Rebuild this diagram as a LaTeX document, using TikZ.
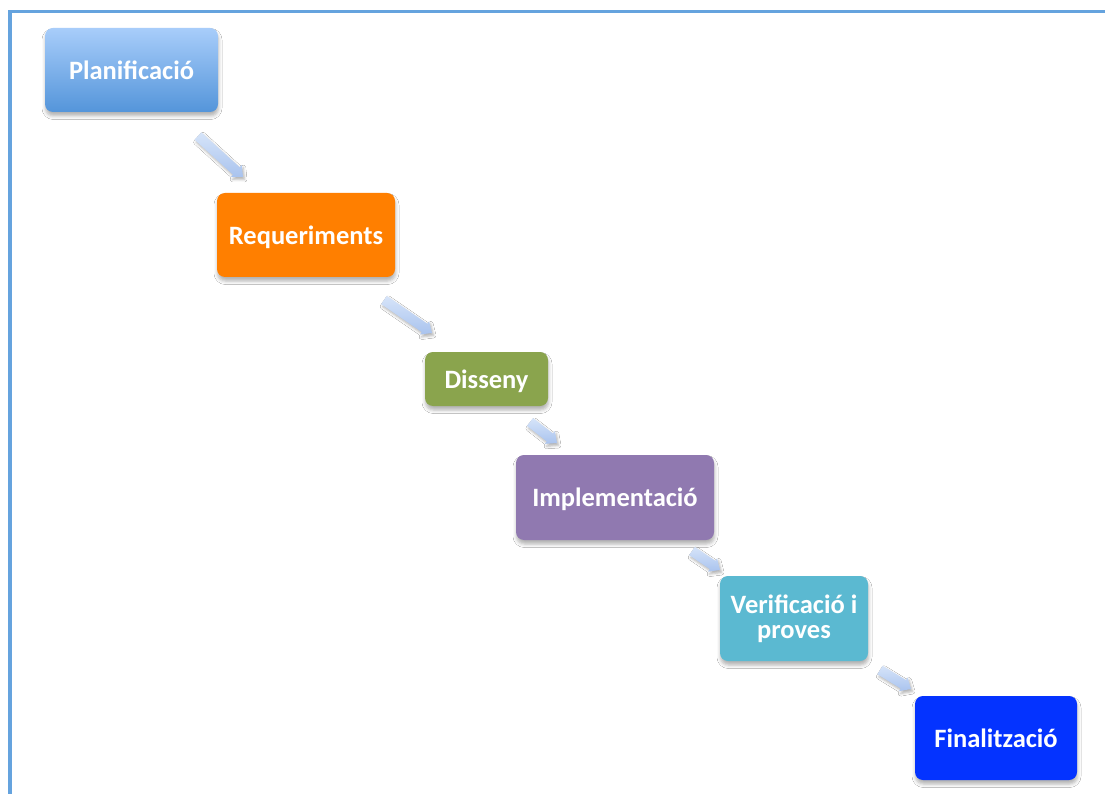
\documentclass[tikz,border=0pt]{standalone}
\usepackage{fontspec}
\setmainfont{Carlito}
\usetikzlibrary{calc,shadows.blur}

\definecolor{frameblue}{HTML}{65A3DE}
\definecolor{plantop}{HTML}{A8CDFA}
\definecolor{planbot}{HTML}{5495DA}
\definecolor{reqorange}{HTML}{FF7F00}
\definecolor{disgreen}{HTML}{8AA44D}
\definecolor{imppurple}{HTML}{9079B0}
\definecolor{vercyan}{HTML}{5BB9D1}
\definecolor{finblue}{HTML}{0433FF}
\definecolor{arrtop}{HTML}{D6E4F9}
\definecolor{arrbot}{HTML}{A9C3EE}

\tikzset{
  phase/.style={rounded corners=8pt, inner sep=0pt, align=center,
    text=white, font=\fontsize{26.5}{26}\selectfont\bfseries,
    blur shadow={shadow xshift=0.5pt, shadow yshift=-4pt,
      shadow blur radius=3.5pt, shadow opacity=30}},
  oneline/.style={text depth=0pt},
  flowarrow/.style={top color=arrtop, bottom color=arrbot,
    blur shadow={shadow xshift=1.5pt, shadow yshift=-2.5pt,
      shadow blur radius=2.5pt, shadow opacity=30}}
}

% block arrow between two named coordinates
\newcommand{\phasearrow}[2]{%
  \path[flowarrow]
    ($(#1)!5pt!90:(#2)$) --
    ($($(#2)!9pt!(#1)$)!5pt!-90:(#1)$) --
    ($($(#2)!9pt!(#1)$)!8pt!-90:(#1)$) --
    (#2) --
    ($($(#2)!9pt!(#1)$)!8pt!90:(#1)$) --
    ($($(#2)!9pt!(#1)$)!5pt!90:(#1)$) --
    ($(#1)!5pt!-90:(#2)$) -- cycle;
}

\begin{document}
\begin{tikzpicture}[x=1pt,y=-1pt]
  \useasboundingbox (0,0) rectangle (1105,794);
  \fill[white] (0,0) rectangle (1105,794);

  % page frame (left and top edges)
  \draw[frameblue, line width=3.5pt] (10,800) -- (10,11.5) -- (1110,11.5);

  % phases
  \node[phase, oneline, minimum width=173pt, minimum height=84pt,
        top color=plantop, bottom color=planbot] (plan) at (131.5,70) {Planificació};
  \node[phase, oneline, fill=reqorange, minimum width=178pt, minimum height=84pt] (req) at (306,235) {Requeriments};
  \node[phase, oneline, fill=disgreen, minimum width=123pt, minimum height=54pt] (dis) at (486.5,379) {Disseny};
  \node[phase, oneline, fill=imppurple, minimum width=198pt, minimum height=85pt] (imp) at (615,497.5) {Implementació};
  \node[phase, fill=vercyan, minimum width=148pt, minimum height=85pt] (ver) at (794,618.5) {Verificació i\\[-1pt]proves};
  \node[phase, oneline, fill=finblue, minimum width=162pt, minimum height=84pt] (fin) at (996,738) {Finalització};

  % arrow ends
  \coordinate (a1s) at (198,136); \coordinate (a1e) at (243,177);
  \coordinate (a2s) at (384,300); \coordinate (a2e) at (432,333);
  \coordinate (a3s) at (530,422); \coordinate (a3e) at (557,443);
  \coordinate (a4s) at (692,551); \coordinate (a4e) at (720,570);
  \coordinate (a5s) at (880,670); \coordinate (a5e) at (911,689);

  \phasearrow{a1s}{a1e}
  \phasearrow{a2s}{a2e}
  \phasearrow{a3s}{a3e}
  \phasearrow{a4s}{a4e}
  \phasearrow{a5s}{a5e}
\end{tikzpicture}
\end{document}
